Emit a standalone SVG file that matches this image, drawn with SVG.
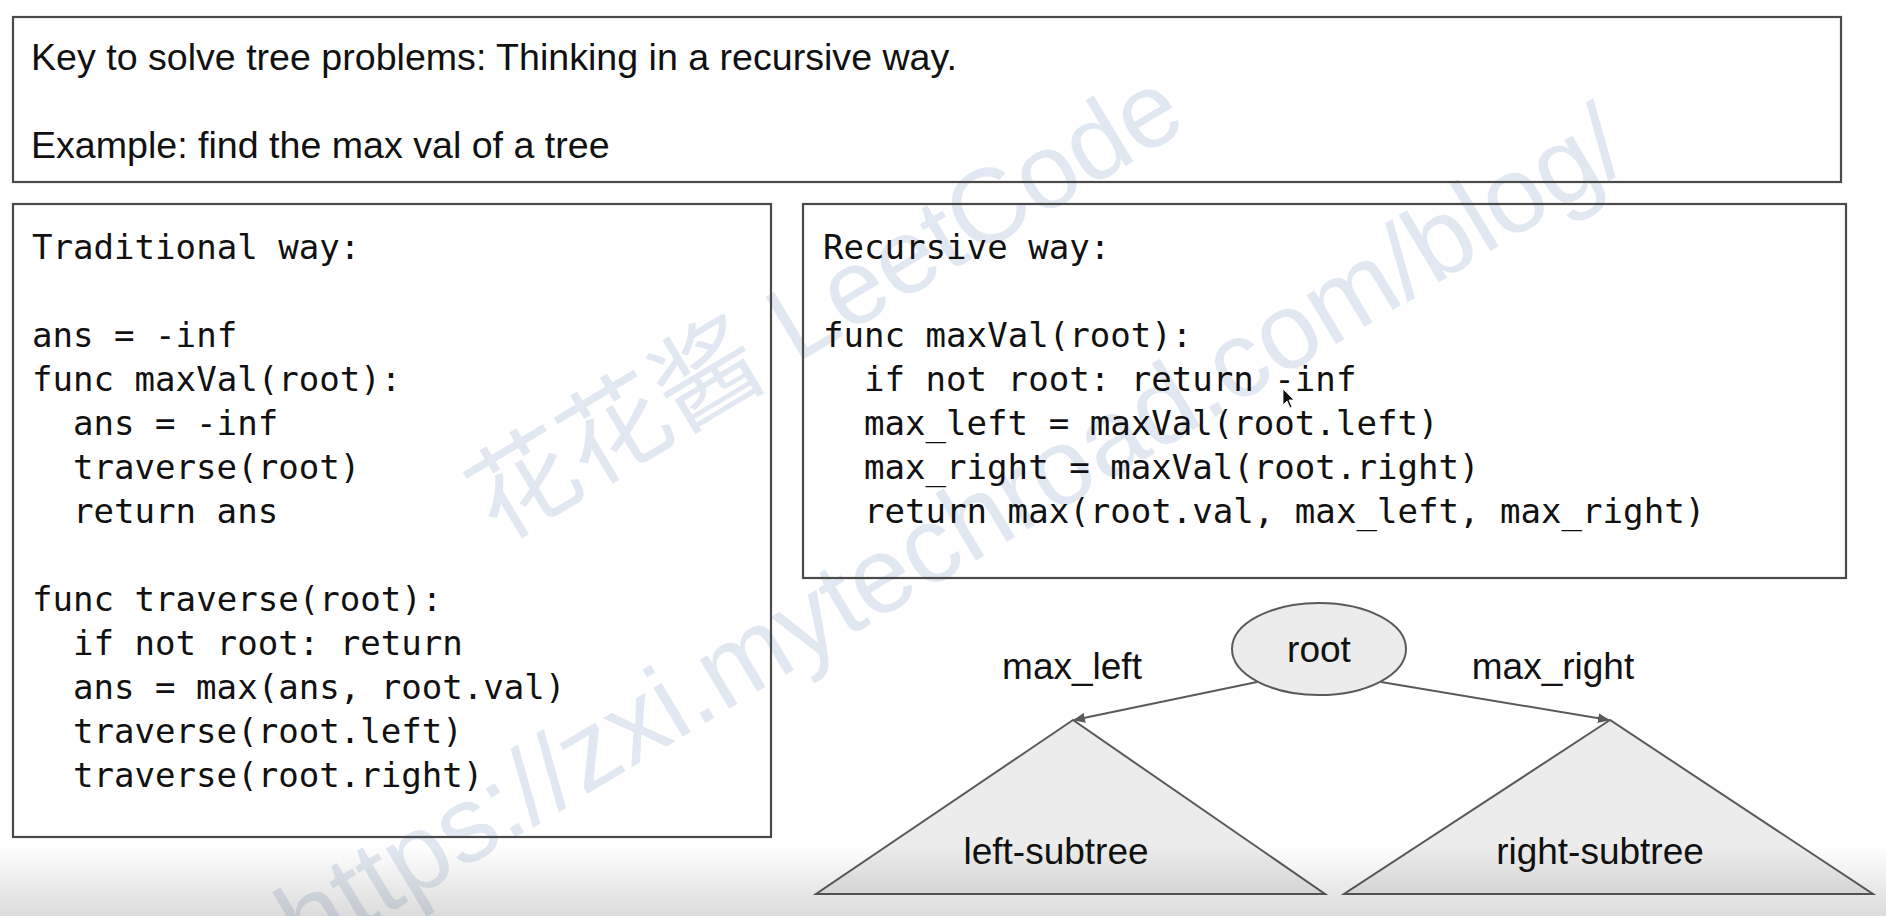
<svg xmlns="http://www.w3.org/2000/svg" width="1886" height="916" viewBox="0 0 1886 916">
  <style>
    .box { fill: none; stroke: #4a4a4a; stroke-width: 2.2; }
    .sans { font-family: "Liberation Sans", Arial, sans-serif; font-size: 37px; fill: #111; }
    .head { font-size: 37.6px; }
    .mono { font-family: "DejaVu Sans Mono", "Liberation Mono", monospace; font-size: 34.1px; fill: #111; }
    .shape { fill: #ececec; stroke: #5a5a5a; stroke-width: 2; }
    .conn { stroke: #5a5a5a; stroke-width: 2; fill: none; }
    .wm { font-family: "Liberation Sans", "Noto Sans CJK SC", sans-serif; fill: #e2e8f1; }
  </style>
  <defs>
    <marker id="arrow" viewBox="0 0 12 10" refX="11" refY="5" markerWidth="12" markerHeight="10" markerUnits="userSpaceOnUse" orient="auto">
      <path d="M0,0 L12,5 L0,10 Z" fill="#5a5a5a"/>
    </marker>
    <linearGradient id="shade" x1="0" y1="0" x2="0" y2="1">
      <stop offset="0" stop-color="#000" stop-opacity="0"/>
      <stop offset="1" stop-color="#000" stop-opacity="0.14"/>
    </linearGradient>
  </defs>

  <rect x="0" y="0" width="1886" height="916" fill="#ffffff"/>

  <g id="watermark">
    <text class="wm" x="498" y="543" font-size="106" transform="rotate(-31 498 543)">花花酱 LeetCode</text>
    <text class="wm" x="306" y="963" font-size="108" transform="rotate(-31 306 963)">https://zxi.mytechroad.com/blog/</text>
  </g>

  <g id="header">
    <rect class="box" x="13" y="17" width="1828" height="165"/>
    <text class="sans head" x="31" y="70">Key to solve tree problems: Thinking in a recursive way.</text>
    <text class="sans head" x="31" y="158">Example: find the max val of a tree</text>
  </g>

  <g id="traditional">
    <rect class="box" x="13" y="204" width="758" height="633"/>
    <text class="mono" x="32" y="259">Traditional way:</text>
    <text class="mono" x="32" y="347">ans = -inf</text>
    <text class="mono" x="32" y="391">func maxVal(root):</text>
    <text class="mono" x="73" y="435">ans = -inf</text>
    <text class="mono" x="73" y="479">traverse(root)</text>
    <text class="mono" x="73" y="523">return ans</text>
    <text class="mono" x="32" y="611">func traverse(root):</text>
    <text class="mono" x="73" y="655">if not root: return</text>
    <text class="mono" x="73" y="699">ans = max(ans, root.val)</text>
    <text class="mono" x="73" y="743">traverse(root.left)</text>
    <text class="mono" x="73" y="787">traverse(root.right)</text>
  </g>

  <g id="recursive">
    <rect class="box" x="803" y="204" width="1043" height="374"/>
    <text class="mono" x="823" y="259">Recursive way:</text>
    <text class="mono" x="823" y="347">func maxVal(root):</text>
    <text class="mono" x="864" y="391">if not root: return -inf</text>
    <text class="mono" x="864" y="435">max_left = maxVal(root.left)</text>
    <text class="mono" x="864" y="479">max_right = maxVal(root.right)</text>
    <text class="mono" x="864" y="523">return max(root.val, max_left, max_right)</text>
  </g>

  <g id="cursor">
    <path d="M1283,389 L1283,405 L1287,401 L1290,408 L1292,407 L1289,400 L1294,400 Z" fill="#111" stroke="#fff" stroke-width="0.8"/>
  </g>

  <g id="left-subtree">
    <polygon class="shape" points="1073,720 816,894 1325,894"/>
    <text class="sans" x="1056" y="864" text-anchor="middle">left-subtree</text>
  </g>

  <g id="right-subtree">
    <polygon class="shape" points="1610,720 1344,894 1873,894"/>
    <text class="sans" x="1600" y="864" text-anchor="middle">right-subtree</text>
  </g>

  <g id="root">
    <ellipse class="shape" cx="1319" cy="649" rx="87" ry="46"/>
    <text class="sans" x="1319" y="662" text-anchor="middle">root</text>
  </g>

  <g id="connectors">
    <line class="conn" x1="1257" y1="682" x2="1074" y2="720" marker-end="url(#arrow)"/>
    <line class="conn" x1="1381" y1="682" x2="1609" y2="720" marker-end="url(#arrow)"/>
    <text class="sans" x="1072" y="679" text-anchor="middle">max_left</text>
    <text class="sans" x="1553" y="679" text-anchor="middle">max_right</text>
  </g>

  <rect x="0" y="845" width="1886" height="71" fill="url(#shade)"/>
</svg>
